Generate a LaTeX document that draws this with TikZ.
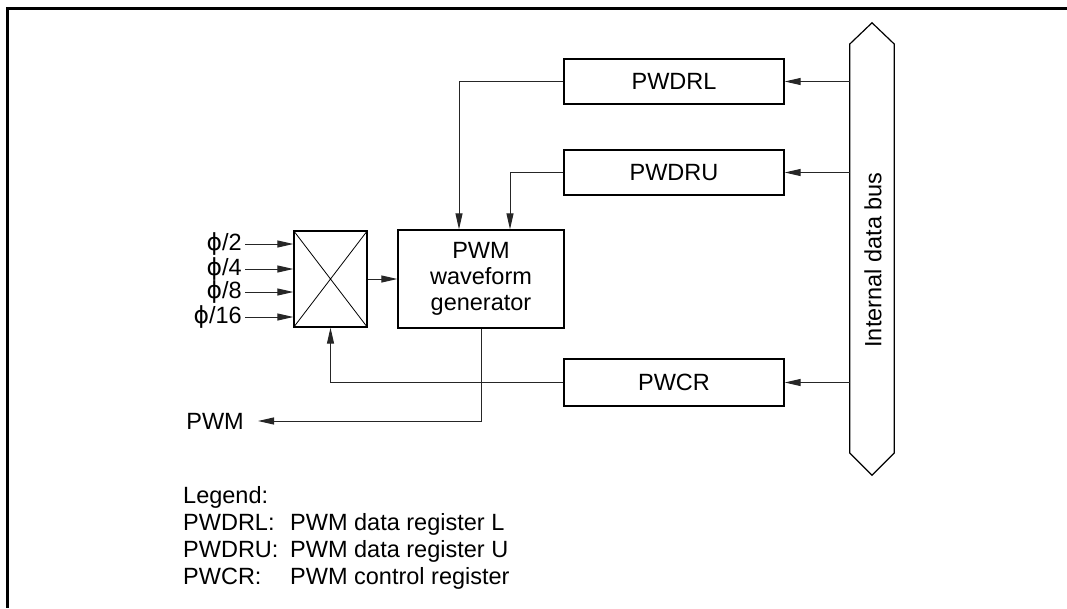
\documentclass[tikz,border=0pt]{standalone}
\usepackage{fontspec}
\setmainfont{Liberation Sans}
\newfontfamily\dvfont{DejaVu Sans}
\usetikzlibrary{arrows.meta}
\tikzset{
  every node/.style={font=\fontsize{23.5}{26}\selectfont},
  box/.style={draw, line width=1.3pt, inner sep=0pt},
  conn/.style={line width=1pt, draw=black!85},
  arr/.style={conn, -{Triangle[length=16pt,width=7pt]}},
  frame/.style={line width=2.7pt},
}
\newcommand{\ph}{{\dvfont ϕ}}
\begin{document}
\begin{tikzpicture}[x=1pt,y=-1pt]
\useasboundingbox (0,0) rectangle (1067,608);
% outer frame (open on right and bottom)
\draw[frame] (1067,8.5) -- (7.5,8.5) -- (7.5,608);
% bus
\node[minimum width=44pt, minimum height=452pt, inner sep=0pt] (bus) at (872,249) {};
\draw[line width=1.2pt] (bus.west |- 0,44) -- (bus.north) -- (bus.east |- 0,44) -- (bus.east |- 0,453) -- (bus.south) -- (bus.west |- 0,453) -- cycle;
\node[rotate=90] (buslabel) at (873,260) {Internal data bus};
% registers
\node[box, minimum width=220pt, minimum height=45pt] (pwdrl) at (674,81.5) {PWDRL};
\node[box, minimum width=220pt, minimum height=45pt] (pwdru) at (674,172.5) {PWDRU};
\node[box, minimum width=220pt, minimum height=47pt] (pwcr) at (674,382.5) {PWCR};
% mux and generator
\node[box, minimum width=73pt, minimum height=96pt] (mux) at (330.5,279) {};
\draw[line width=0.8pt] (mux.north west) -- (mux.south east) (mux.south west) -- (mux.north east);
\node[box, minimum width=166pt, minimum height=98pt, align=center] (gen) at (481,279) {PWM\\waveform\\generator};
% bus to registers
\draw[arr] (bus.west |- pwdrl) -- (pwdrl.east);
\draw[arr] (bus.west |- pwdru) -- (pwdru.east);
\draw[arr] (bus.west |- pwcr) -- (pwcr.east);
% registers to generator / mux
\draw[arr] (pwdrl.west) -| ([xshift=-22pt]gen.north);
\draw[arr] (pwdru.west) -| ([xshift=29pt]gen.north);
\draw[arr] (pwcr.west) -| (mux.south);
% mux to generator
\draw[arr] (mux.east) -- (gen.west);
% clock inputs
\node[anchor=east, inner sep=0pt] (c2) at (242,244) {\ph/2};
\node[anchor=east, inner sep=0pt] (c4) at (242,269) {\ph/4};
\node[anchor=east, inner sep=0pt] (c8) at (242,292) {\ph/8};
\node[anchor=east, inner sep=0pt] (c16) at (242,317) {\ph/16};
\foreach \c in {c2,c4,c8,c16}
  \draw[arr, shorten <=3pt] (\c.east) -- (\c.east -| mux.west);
% output
\node[anchor=east, inner sep=0pt] (pwm) at (244,421) {PWM};
\draw[arr, shorten >=14pt] (gen.south) |- (pwm.east);
% legend
\node[anchor=north west, inner sep=0pt, align=left, font=\fontsize{23.5}{27}\selectfont] (legend) at (183,486) {%
  Legend:\\
  \makebox[107pt][l]{PWDRL:}PWM data register L\\
  \makebox[107pt][l]{PWDRU:}PWM data register U\\
  \makebox[107pt][l]{PWCR:}PWM control register};
\end{tikzpicture}
\end{document}
